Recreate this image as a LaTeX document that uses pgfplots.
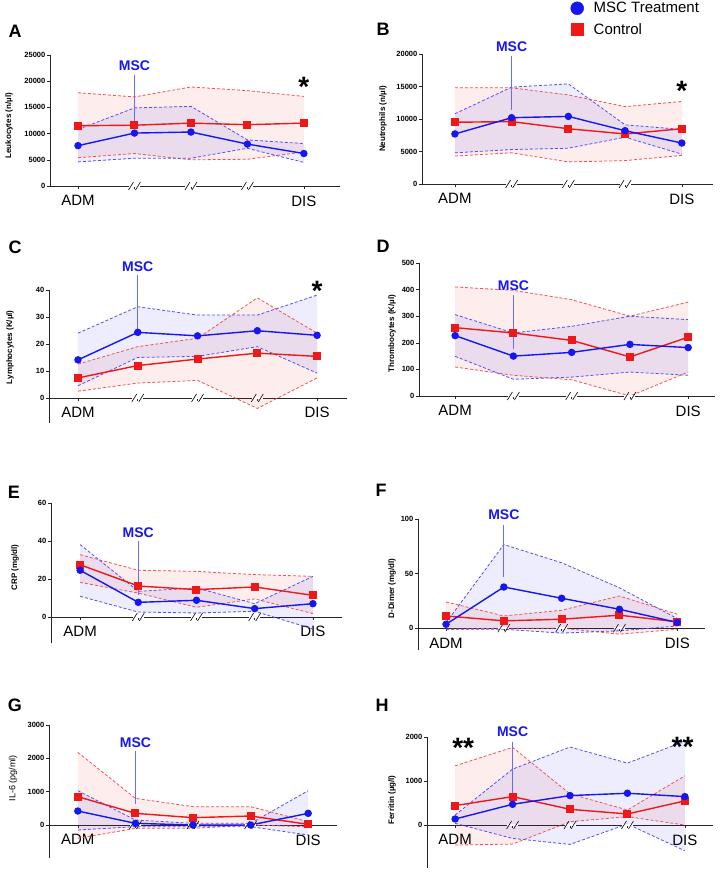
\documentclass[border=0pt]{standalone}
\usepackage{fontspec}
\setmainfont{Liberation Sans}
\usepackage{pgfplots}
\usepackage{pgfplotstable}
\pgfplotsset{compat=1.18}
\usepgfplotslibrary{fillbetween}

\definecolor{mblue}{RGB}{22,22,240}
\definecolor{mred}{RGB}{238,24,24}
\definecolor{mscline}{RGB}{105,110,250}

% x, blue mean/upper/lower, red mean/upper/lower
\pgfplotstableread{
x bm bu bl rm ru rl
1 7700 10800 4600 11500 17800 5400
2 10100 14900 5300 11600 17000 6200
3 10300 15200 5300 12000 18900 5000
4 8000 8800 7200 11700 18200 5100
5 6200 8100 4500 12000 17100 6500
}\tabA
\pgfplotstableread{
x bm bu bl rm ru rl
1 7700 10800 4800 9500 14800 4300
2 10200 14900 5300 9600 14800 4800
3 10400 15400 5500 8500 13700 3400
4 8200 9100 7200 7700 11900 3600
5 6300 8400 4600 8500 12700 4400
}\tabB
\pgfplotstableread{
x bm bu bl rm ru rl
1 14.1 24 4.5 7.4 12.5 2.5
2 24.3 33.8 15 12 19 5.5
3 23 30.7 15.4 14.4 22.1 6.5
4 24.9 30.7 19 16.6 37.1 -3.9
5 23.2 38.1 9.2 15.4 24 7.4
}\tabC
\pgfplotstableread{
x bm bu bl rm ru rl
1 227 306 149 257 410 109
2 150 237 63 237 397 78
3 164 262 71 209 362 61
4 194 300 90 147 300 0
5 182 287 78 221 353 90
}\tabD
\pgfplotstableread{
x bm bu bl rm ru rl
1 24.6 38.1 10.9 27.5 32.8 18.2
2 7.7 13.5 2.6 16.3 24.6 12.6
3 8.8 15.3 2.1 14.4 24 5.1
4 4.4 7 3 15.8 22.3 9.5
5 7 21.4 -6.3 11.4 21.4 1.8
}\tabE
\pgfplotstableread{
x bm bu bl rm ru rl
1 3.6 5 -1 11.2 24 -1
2 37.7 76.6 -1 6.7 11.2 0
3 27.4 59.9 -4.5 8.2 16.4 0
4 17.3 37 -2.4 11.9 29.5 -5.5
5 5.2 8.8 2 5.8 12.8 -1
}\tabF
\pgfplotstableread{
x bm bu bl rm ru rl
1 420 1030 -150 850 2180 -400
2 50 150 -50 350 800 -100
3 0 50 -50 220 550 -100
4 0 50 -50 270 550 0
5 350 1030 -300 20 100 -50
}\tabG
\pgfplotstableread{
x bm bu bl rm ru rl
1 137 228 38 441 1346 -456
2 471 1270 -304 646 1764 -433
3 669 1772 -441 357 707 76
4 722 1407 23 251 342 190
5 646 1901 -585 548 1118 0
}\tabH

\pgfplotsset{
  panel/.style={
    scale only axis, clip=false, anchor=south west,
    axis y line=left, axis x line=middle,
    axis line style={-, line width=0.8pt, black!85},
    hide obscured x ticks=false, hide obscured y ticks=false,
    scaled y ticks=false,
    xtick={1,2,3,4,5}, xticklabels={ADM,,,,DIS},
    tick align=outside, major tick length=3pt,
    tick style={line width=0.6pt, black!85},
    xticklabel style={font=\fontsize{15}{15}\selectfont, yshift=-3pt},
    yticklabel style={font=\bfseries\fontsize{7.5}{7.5}\selectfont, inner sep=1.5pt},
    /pgf/number format/assume math mode=true,
    /pgf/number format/1000 sep={},
    ylabel style={font=\bfseries\fontsize{8}{9}\selectfont},
  },
  ylab/.style 2 args={ylabel style={at={([xshift=-#1pt]axis description cs:0,#2)}, anchor=center}},
  band/.style={densely dashed, line width=0.8pt},
  mean/.style={line width=1.4pt, mark size=3pt},
}

\newcommand{\series}[1]{%
  \addplot[name path=ru, band, mred!75] table[x=x, y=ru] {#1};
  \addplot[name path=rl, band, mred!75] table[x=x, y=rl] {#1};
  \addplot[name path=bu, band, mblue!75] table[x=x, y=bu] {#1};
  \addplot[name path=bl, band, mblue!75] table[x=x, y=bl] {#1};
  \addplot[fill=mred, fill opacity=0.08] fill between[of=ru and rl];
  \addplot[fill=mblue, fill opacity=0.08] fill between[of=bu and bl];
  \addplot[mean, mred, mark=square*, mark size=3.3pt] table[x=x, y=rm] {#1};
  \addplot[mean, mblue, mark=*] table[x=x, y=bm] {#1};
}
% MSC marker line and label, drawn through the axis at x = 2
\newcommand{\msc}[3]{%
  \addplot[mscline, line width=0.8pt, no marks, forget plot] coordinates {(2,#1) (2,#2)};
  \node[text=mblue, font=\bfseries\fontsize{14}{14}\selectfont] at (axis cs:2,#3) {MSC};
}
\newcommand{\sig}[3]{%
  \node[font=\bfseries\fontsize{28}{28}\selectfont, inner sep=0pt, yshift=-6.5pt] at (axis cs:#1,#2) {#3};
}
\newcommand{\breaks}{%
  \pgfplotsinvokeforeach{2,3,4}{%
    \fill[white] ([xshift=-5.5pt,yshift=-1.3pt]axis cs:##1,0) rectangle ([xshift=5.5pt,yshift=1.3pt]axis cs:##1,0);
    \draw[line width=0.6pt] ([xshift=-6pt,yshift=-4pt]axis cs:##1,0) -- ([xshift=-1pt,yshift=4pt]axis cs:##1,0);
    \draw[line width=0.6pt] ([xshift=1pt,yshift=-4pt]axis cs:##1,0) -- ([xshift=6pt,yshift=4pt]axis cs:##1,0);
  }%
}

\begin{document}
\begin{tikzpicture}
\tikzset{letter/.style={font=\bfseries\fontsize{18}{18}\selectfont}}
\node[letter] at (15pt,-31pt) {A};
\node[letter] at (383pt,-29pt) {B};
\node[letter] at (15pt,-247pt) {C};
\node[letter] at (383pt,-246pt) {D};
\node[letter] at (14pt,-492pt) {E};
\node[letter] at (381pt,-490pt) {F};
\node[letter] at (15pt,-705pt) {G};
\node[letter] at (382pt,-705pt) {H};

% A
\begin{axis}[panel, at={(50pt,-186pt)}, width=290pt, height=131pt,
  xmin=0.504, xmax=5.64, ymin=0, ymax=25000, ytick={0,5000,...,25000},
  ylabel={Leukocytes (n/µl)}, ylab={41}{0.46}]
\series{\tabA}
\msc{21200}{11300}{22900}
\sig{5}{20200}{*}
\breaks
\end{axis}

% B
\begin{axis}[panel, at={(422pt,-184pt)}, width=291pt, height=130pt,
  xmin=0.42, xmax=5.55, ymin=0, ymax=20000, ytick={0,5000,...,20000},
  ylabel={Neutrophils (n/µl)}, ylab={39}{0.5},
  legend style={at={(axis description cs:0.5,1.43)}, anchor=north west,
    draw=none, fill=none, font=\fontsize{15}{15}\selectfont, row sep=5pt,
    /tikz/every odd column/.append style={column sep=8pt}},
  legend cell align=left]
\addlegendimage{only marks, mark=*, mark size=6.5pt, mblue}
\addlegendentry{MSC Treatment}
\addlegendimage{only marks, mark=square*, mark size=6pt, mred}
\addlegendentry{Control}
\series{\tabB}
\msc{19700}{11400}{21200}
\sig{5}{15300}{*}
\breaks
\end{axis}

% C
\begin{axis}[panel, at={(49pt,-423pt)}, width=298pt, height=133pt,
  xmin=0.515, xmax=5.5, ymin=-9.3, ymax=40, ytick={0,10,...,40},
  ylabel={Lymphocytes (K/µl)}, ylab={39}{0.57}]
\series{\tabC}
\msc{45.5}{24.6}{48.8}
\sig{5}{42}{*}
\breaks
\end{axis}

% D
\begin{axis}[panel, at={(419pt,-396pt)}, width=296pt, height=133pt,
  xmin=0.38, xmax=5.46, ymin=0, ymax=500, ytick={0,100,...,500},
  ylabel={Thrombocytes (K/µl)}, ylab={27}{0.47}]
\series{\tabD}
\msc{378}{178}{416}
\breaks
\end{axis}

% E
\begin{axis}[panel, at={(51pt,-643pt)}, width=291pt, height=140pt,
  xmin=0.5, xmax=5.5, ymin=-13.7, ymax=60, ytick={0,20,40,60},
  ylabel={CRP (mg/dl)}, ylab={36}{0.54}]
\series{\tabE}
\msc{39.8}{11.8}{44.6}
\breaks
\end{axis}

% F
\begin{axis}[panel, at={(418pt,-650pt)}, width=287pt, height=131pt,
  xmin=0.515, xmax=5.48, ymin=-20, ymax=100, ytick={0,50,100},
  ylabel={D-Dimer (mg/dl)}, ylab={26}{0.47}]
\series{\tabF}
\msc{94.8}{46.8}{104}
\breaks
\end{axis}

% G
\begin{axis}[panel, at={(49pt,-858pt)}, width=288pt, height=133pt,
  xmin=0.5, xmax=5.5, ymin=-990, ymax=3000, ytick={0,1000,2000,3000},
  ylabel={IL-6 (pg/ml)}, ylab={36}{0.6},
  ylabel style={font=\fontsize{9}{10}\selectfont}]
\series{\tabG}
\msc{2230}{620}{2470}
\breaks
\end{axis}

% H
\begin{axis}[panel, at={(427pt,-868pt)}, width=286pt, height=131pt,
  xmin=0.51, xmax=5.49, ymin=-977, ymax=2000, ytick={0,1000,2000},
  ylabel={Ferritin (µg/l)}, ylab={35}{0.52}]
\series{\tabH}
\msc{1886}{494}{2114}
\sig{1.14}{1900}{**}
\sig{4.96}{1920}{**}
\breaks
\end{axis}

\pgfresetboundingbox
\path[use as bounding box] (0pt,0pt) rectangle (720pt,-872pt);
\end{tikzpicture}
\end{document}
